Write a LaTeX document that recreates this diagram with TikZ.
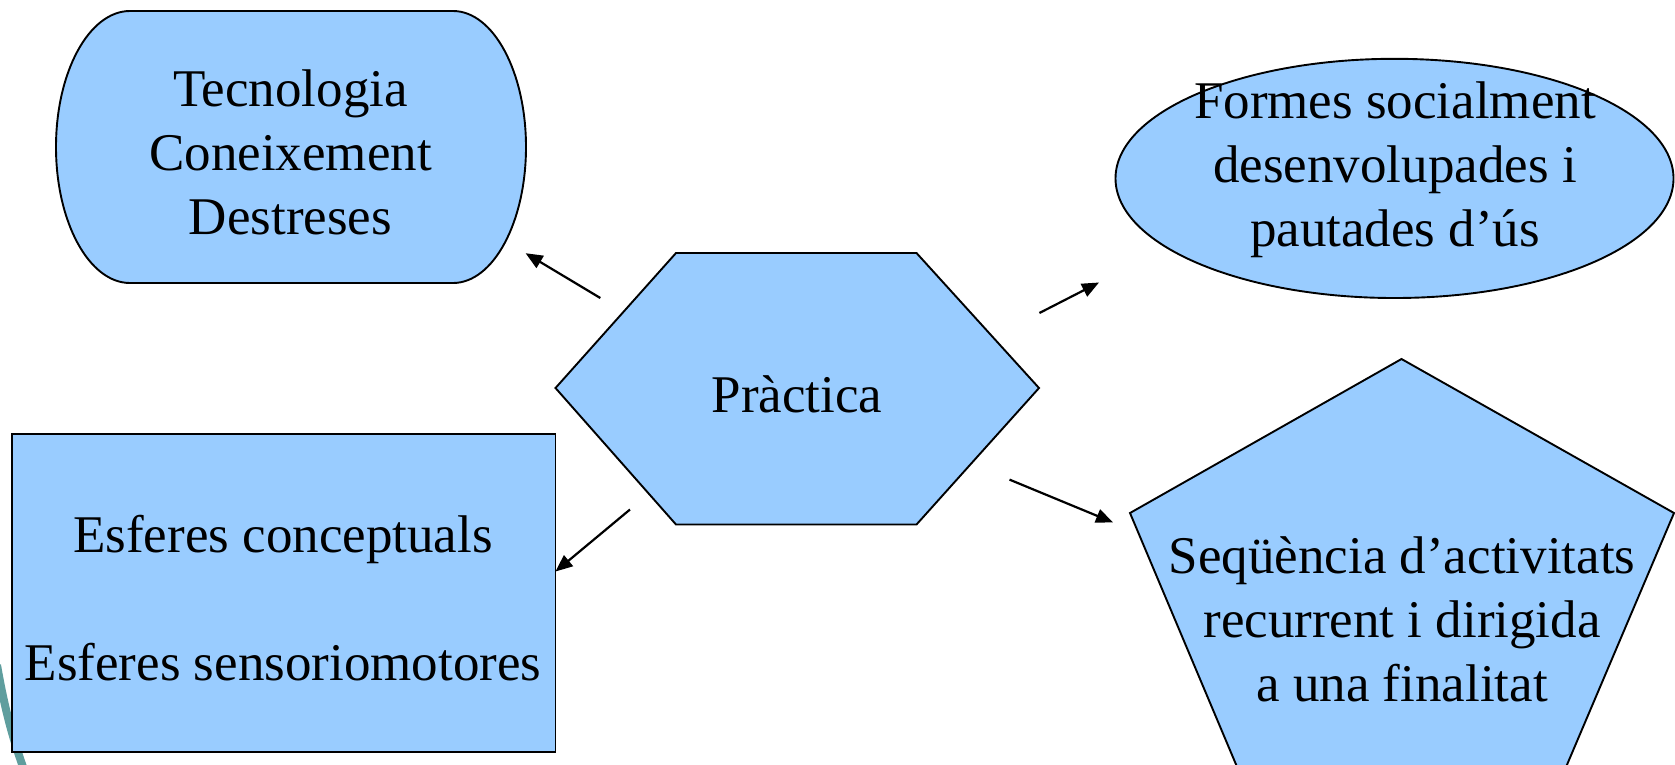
\documentclass[tikz,border=0pt]{standalone}
\usepackage{fontspec}
\setmainfont{Liberation Serif}
\usetikzlibrary{arrows.meta}
\definecolor{shapefill}{HTML}{99CCFF}
\definecolor{tealdeco}{HTML}{5F9E9E}
\begin{document}
\begin{tikzpicture}[x=1pt,y=-1pt,
  shapestyle/.style={fill=shapefill,draw=black,line width=1.9pt,line join=miter},
  lbl/.style={align=center,font=\fontsize{53}{64}\selectfont,inner sep=0pt},
  conn/.style={line width=2.2pt,-{Triangle[length=17pt,width=14pt]}}]
\clip (0,0) rectangle (1675,764);
\fill[white] (0,0) rectangle (1675,764);
% decorative background arc
\draw[tealdeco,line width=8pt] (-3,665) .. controls (4,705) and (12,738) .. (26,775);
% shapes
\path[shapestyle] (130,11) -- (453,11)
  .. controls (493.3,11) and (526,71.9) .. (526,147)
  .. controls (526,222.1) and (493.3,283) .. (453,283)
  -- (130,283)
  .. controls (89.1,283) and (56,222.1) .. (56,147)
  .. controls (56,71.9) and (89.1,11) .. (130,11) -- cycle;
\path[shapestyle] (1394.5,178.4) ellipse [x radius=279, y radius=119.6];
\path[shapestyle] (676,253) -- (916.5,253) -- (1039,388) -- (916.5,524.5) -- (676,524.5) -- (555.5,388) -- cycle;
\path[shapestyle] (12,434) rectangle (555.5,752);
\path[shapestyle] (1401.5,359) -- (1674,513) -- (1552,800) -- (1251,800) -- (1130,513) -- cycle;
% labels
\node[lbl] (tec) at (290.5,152) {Tecnologia\\Coneixement\\Destreses};
\node[lbl] (form) at (1395,170) {Formes socialment\\desenvolupades i\\pautades d’ús};
\node[lbl] (prac) at (797,394) {Pràctica};
\node[lbl] (esf) at (283,598) {Esferes conceptuals\\[64pt]Esferes sensoriomotores};
\node[lbl] (seq) at (1402,619) {Seqüència d’activitats\\recurrent i dirigida\\a una finalitat};
% connector end points
\coordinate (s1) at (600.3,298);   \coordinate (e1) at (525.6,253.2);
\coordinate (s2) at (1039.4,313);  \coordinate (e2) at (1099,282.5);
\coordinate (s3) at (630,509.5);   \coordinate (e3) at (555.5,571.5);
\coordinate (s4) at (1009.5,479.6);\coordinate (e4) at (1113,522.4);
\draw[conn] (s1) -- (e1);
\draw[conn] (s2) -- (e2);
\draw[conn] (s3) -- (e3);
\draw[conn] (s4) -- (e4);
\end{tikzpicture}
\end{document}
